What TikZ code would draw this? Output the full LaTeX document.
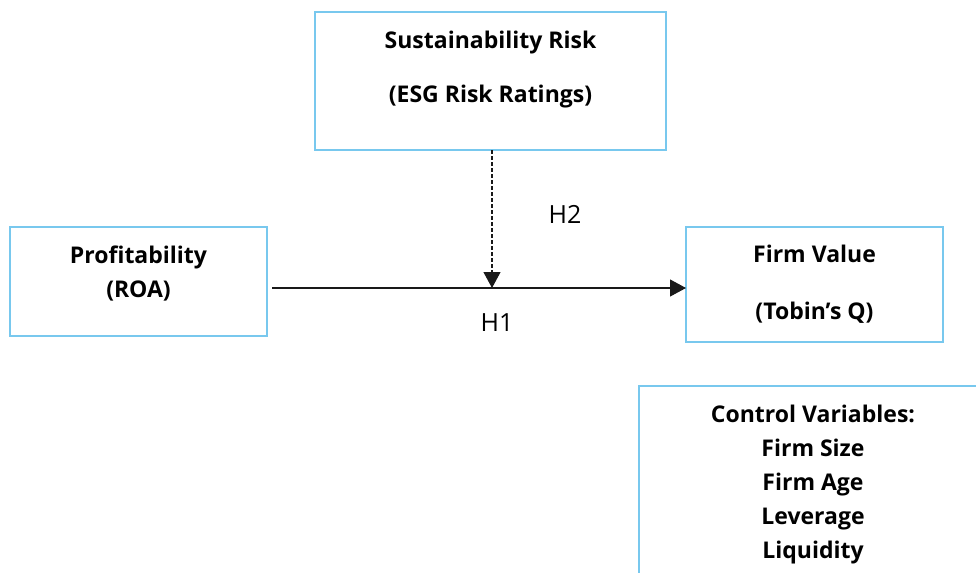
\documentclass[tikz,border=0pt]{standalone}
\usepackage{fontspec}
\setmainfont{Open Sans}
\usepackage{tikz}
\usetikzlibrary{arrows.meta,positioning}

\definecolor{boxblue}{RGB}{120,200,238}
\definecolor{inkgray}{RGB}{25,25,25}

\begin{document}
\begin{tikzpicture}[x=0.5pt,y=-0.5pt,font=\fontsize{11.5}{17}\selectfont,
    >={Triangle[length=8pt,width=8.5pt]},
    varbox/.style={draw=boxblue,line width=0.6pt,rectangle,inner sep=0pt,outer sep=0pt},
    vartext/.style={align=center,font=\fontsize{11.5}{17}\selectfont\bfseries,inner sep=0pt},
    hyplabel/.style={font=\fontsize{12.5}{15}\selectfont,inner sep=0pt}]
  \useasboundingbox (0,0) rectangle (976,573);
  \clip (0,0) rectangle (976,573);
  % boxes
  \node[varbox,minimum width=175.5pt,minimum height=69pt] (risk) at (490.5,81) {};
  \node[varbox,minimum width=128.5pt,minimum height=54.5pt] (roa) at (138.5,281.5) {};
  \node[varbox,minimum width=128.5pt,minimum height=57.5pt] (value) at (814.5,284.5) {};
  \node[varbox,minimum width=175.5pt,minimum height=102pt] (controls) at (814.5,488) {};
  % texts
  \node[vartext] (risktxt) at (490.5,70) {Sustainability Risk\\[10pt](ESG Risk Ratings)};
  \node[vartext] (roatxt) at (138.5,273.5) {Profitability\\(ROA)};
  \node[vartext] (valuetxt) at (814.5,284.5) {Firm Value\\[11.5pt](Tobin’s Q)};
  \node[vartext,align=center] (ctrltxt) at (813,484.5)
    {Control Variables:\\Firm Size\\Firm Age\\Leverage\\Liquidity};
  % paths
  \coordinate (junction) at (492,288);
  \draw[->,inkgray,line width=0.55pt] ([xshift=2.5pt]roa.east |- junction) -- (value.west |- junction);
  \draw[->,inkgray,line width=0.55pt,dash pattern=on 2pt off 1pt] (risk.south -| junction) -- (junction);
  \node[hyplabel] (h2) at (565,214) {H2};
  \node[hyplabel] (h1) at (497,323) {H1};
\end{tikzpicture}
\end{document}
